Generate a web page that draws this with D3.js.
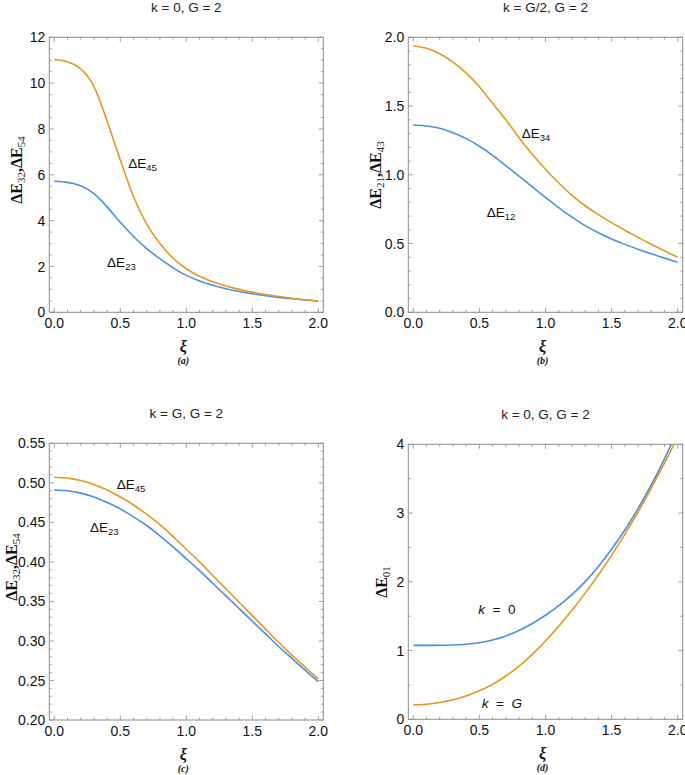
<!DOCTYPE html>
<html><head><meta charset="utf-8">
<script src="https://cdn.jsdelivr.net/npm/d3@7"></script>
<style>body{margin:0;background:#fff}</style>
</head><body>
<svg id="c" width="685" height="775" xmlns="http://www.w3.org/2000/svg"></svg>
<script>
// ---------- data ----------
const xi = [0,0.1,0.2,0.3,0.4,0.5,0.6,0.7,0.8,0.9,1.0,1.1,1.2,1.3,1.4,1.5,1.6,1.7,1.8,1.9,2.0];

// (a) k = 0, G = 2
const aE23 = [5.72,5.67,5.52,5.18,4.6,3.93,3.31,2.78,2.34,1.94,1.61,1.37,1.18,1.03,0.91,0.81,0.72,0.65,0.59,0.54,0.49];
const aE45 = [11.03,10.93,10.62,9.85,8.35,6.65,5.05,3.85,3.0,2.36,1.9,1.57,1.33,1.15,1.0,0.88,0.78,0.69,0.61,0.55,0.49];
// (b) k = G/2, G = 2
const bE12 = [1.362,1.355,1.338,1.305,1.263,1.208,1.142,1.067,0.99,0.912,0.836,0.762,0.692,0.63,0.578,0.533,0.494,0.459,0.425,0.394,0.364];
const bE34 = [1.937,1.92,1.88,1.82,1.74,1.64,1.52,1.40,1.27,1.15,1.04,0.94,0.85,0.775,0.71,0.652,0.597,0.545,0.495,0.447,0.40];
// (c) k = G, G = 2
const cE23 = [0.491,0.490,0.487,0.482,0.475,0.467,0.457,0.446,0.433,0.419,0.404,0.389,0.373,0.357,0.341,0.325,0.309,0.293,0.278,0.263,0.2485];
const cE45 = [0.507,0.506,0.503,0.498,0.491,0.482,0.472,0.460,0.447,0.432,0.416,0.400,0.383,0.366,0.349,0.332,0.315,0.298,0.282,0.267,0.252];
// (d) k = 0, G, G = 2
const dK0 = [1.075,1.075,1.077,1.081,1.091,1.113,1.153,1.213,1.293,1.393,1.513,1.653,1.813,2.003,2.223,2.473,2.753,3.063,3.408,3.788,4.208];
const dKG = [0.21,0.22,0.245,0.285,0.34,0.415,0.51,0.63,0.775,0.945,1.14,1.355,1.585,1.835,2.10,2.385,2.69,3.015,3.36,3.725,4.11];

// tick values / labels
const xTicks = [0,0.5,1,1.5,2];
const xTickLabels = ["0.0","0.5","1.0","1.5","2.0"];
const aYTicks = [0,2,4,6,8,10,12];
const aYTickLabels = ["0","2","4","6","8","10","12"];
const bYTicks = [0,0.5,1,1.5,2];
const bYTickLabels = ["0.0","0.5","1.0","1.5","2.0"];
const cYTicks = [0.2,0.25,0.3,0.35,0.4,0.45,0.5,0.55];
const cYTickLabels = ["0.20","0.25","0.30","0.35","0.40","0.45","0.50","0.55"];
const dYTicks = [0,1,2,3,4];
const dYTickLabels = ["0","1","2","3","4"];

const titles = ["k = 0, G = 2","k = G/2, G = 2","k = G, G = 2","k = 0, G, G = 2"];
const panelTags = ["(a)","(b)","(c)","(d)"];

// ---------- style ----------
const BLUE = "#4a8fe2", ORANGE = "#e3981f", FRAME = "#8c8c8c";
const SANS = "'Liberation Sans', Arial, sans-serif";
const SERIF = "'Liberation Serif', 'Times New Roman', serif";

const panels = [
  {box:[49.3,323.3,37.3,312.3], yDom:[0,12], yTicks:aYTicks, yLab:aYTickLabels, yMinor:0.5, xMinor:0.1,
   series:[[aE23,BLUE],[aE45,ORANGE]],
   ylabel:[{t:"ΔE"},{t:"32",sub:1},{t:",ΔE"},{t:"54",sub:1}], ylx:22, yly:170,
   notes:[{x:0.56,y:6.28,parts:[{t:"ΔE"},{t:"45",sub:1}]},{x:0.40,y:1.99,parts:[{t:"ΔE"},{t:"23",sub:1}]}]},
  {box:[408.3,682.7,37.3,312.3], yDom:[0,2], yTicks:bYTicks, yLab:bYTickLabels, yMinor:0.1, xMinor:0.1,
   series:[[bE12,BLUE],[bE34,ORANGE]],
   ylabel:[{t:"ΔE"},{t:"21",sub:1},{t:",ΔE"},{t:"43",sub:1}], ylx:381, yly:175,
   notes:[{x:0.82,y:1.265,parts:[{t:"ΔE"},{t:"34",sub:1}]},{x:0.556,y:0.693,parts:[{t:"ΔE"},{t:"12",sub:1}]}]},
  {box:[49.3,323.3,443.3,720], yDom:[0.2,0.55], yTicks:cYTicks, yLab:cYTickLabels, yMinor:0.01, xMinor:0.1,
   series:[[cE23,BLUE],[cE45,ORANGE]],
   ylabel:[{t:"ΔE"},{t:"32",sub:1},{t:",ΔE"},{t:"54",sub:1}], ylx:16.5, yly:567,
   notes:[{x:0.473,y:0.492,parts:[{t:"ΔE"},{t:"45",sub:1}]},{x:0.27,y:0.4384,parts:[{t:"ΔE"},{t:"23",sub:1}]}]},
  {box:[408.3,682.7,444.3,719.3], yDom:[0,4], yTicks:dYTicks, yLab:dYTickLabels, yMinor:0.5, xMinor:0.1,
   series:[[dK0,BLUE],[dKG,ORANGE]],
   ylabel:[{t:"ΔE"},{t:"01",sub:1}], ylx:387, yly:582,
   notes:[{x:0.492,y:1.53,parts:[{t:"k",it:1},{t:"  =  0"}]},{x:0.518,y:0.16,parts:[{t:"k",it:1},{t:"  =  G",it2:1}]}]}
];

const svg = d3.select("#c");

function rich(sel, parts, main, sub, shift){
  let down = false;
  parts.forEach(p=>{
    const ts = sel.append("tspan").text(p.t);
    if(p.sub){ ts.attr("font-size",sub).attr("font-weight","normal").attr("dy",shift); down=true; }
    else { ts.attr("font-size",main); if(down){ ts.attr("dy",-shift); down=false; } }
    if(p.it) ts.attr("font-style","italic");
  });
}

panels.forEach((P,i)=>{
  const [x0,x1,y0,y1] = P.box;
  const pad = 0.0379;
  const x = d3.scaleLinear().domain([-pad,2+pad]).range([x0,x1]);
  const y = d3.scaleLinear().domain(P.yDom).range([y1,y0]);
  const g = svg.append("g");

  const clipId = "clip"+i;
  svg.append("clipPath").attr("id",clipId).append("rect")
     .attr("x",x0).attr("y",y0).attr("width",x1-x0).attr("height",y1-y0);

  // curves
  const line = d3.line().x((d,j)=>x(xi[j])).y(d=>y(d)).curve(d3.curveNatural);
  P.series.forEach(([vals,col])=>{
    g.append("path").datum(vals).attr("d",line).attr("fill","none")
     .attr("stroke",col).attr("stroke-width",1.6).attr("clip-path",`url(#${clipId})`);
  });

  // ticks (all four sides, inward)
  const majL = 4.5, minL = 2.5;
  const xMinorVals = d3.range(0,2.0001,P.xMinor).filter(v=>!xTicks.some(t=>Math.abs(t-v)<1e-6));
  const yMinorVals = d3.range(P.yDom[0],P.yDom[1]+1e-6,P.yMinor).filter(v=>!P.yTicks.some(t=>Math.abs(t-v)<1e-6));
  const tg = g.append("g").attr("stroke",FRAME).attr("stroke-width",0.8);
  [[xTicks,majL],[xMinorVals,minL]].forEach(([vals,L])=>{
    vals.forEach(v=>{
      const px = x(v);
      tg.append("line").attr("x1",px).attr("x2",px).attr("y1",y1).attr("y2",y1-L);
      tg.append("line").attr("x1",px).attr("x2",px).attr("y1",y0).attr("y2",y0+L);
    });
  });
  [[P.yTicks,majL],[yMinorVals,minL]].forEach(([vals,L])=>{
    vals.forEach(v=>{
      const py = y(v);
      tg.append("line").attr("y1",py).attr("y2",py).attr("x1",x0).attr("x2",x0+L);
      tg.append("line").attr("y1",py).attr("y2",py).attr("x1",x1).attr("x2",x1-L);
    });
  });

  // frame
  g.append("rect").attr("x",x0).attr("y",y0).attr("width",x1-x0).attr("height",y1-y0)
   .attr("fill","none").attr("stroke",FRAME).attr("stroke-width",1);

  // tick labels
  xTicks.forEach((v,j)=>{
    g.append("text").attr("x",x(v)).attr("y",y1+16).attr("text-anchor","middle")
     .attr("font-family",SANS).attr("font-size",14).attr("fill","#111").text(xTickLabels[j]);
  });
  P.yTicks.forEach((v,j)=>{
    g.append("text").attr("x",x0-4).attr("y",y(v)).attr("dy","0.36em").attr("text-anchor","end")
     .attr("font-family",SANS).attr("font-size",14).attr("fill","#111").text(P.yLab[j]);
  });

  // title
  g.append("text").attr("x",(x0+x1)/2).attr("y",y0-25).attr("text-anchor","middle")
   .attr("font-family",SANS).attr("font-size",13.5).attr("fill","#222").text(titles[i]);

  // y label (bold serif, rotated)
  const yl = g.append("text").attr("transform",`translate(${P.ylx},${P.yly}) rotate(-90)`)
   .attr("text-anchor","middle").attr("font-family",SERIF).attr("font-weight","bold").attr("fill","#111");
  rich(yl,P.ylabel,16,11,3);

  // x label
  const cx = (x0+x1)/2 - 3;
  g.append("text").attr("x",cx).attr("y",y1+40).attr("text-anchor","middle")
   .attr("font-family",SERIF).attr("font-style","italic").attr("font-weight","bold").attr("font-size",16).attr("fill","#111").text("ξ");
  g.append("text").attr("x",cx).attr("y",y1+52).attr("text-anchor","middle")
   .attr("font-family",SERIF).attr("font-style","italic").attr("font-weight","bold").attr("font-size",10).attr("fill","#111").text(panelTags[i]);

  // in-plot notes
  P.notes.forEach(n=>{
    const t = g.append("text").attr("x",x(n.x)).attr("y",y(n.y)).attr("font-family",SANS)
      .attr("fill","#111").style("white-space","pre");
    n.parts.forEach(p=>{
      if(p.sub){ t.append("tspan").text(p.t).attr("font-size",9.5).attr("dy",3); }
      else if(p.it2){
        t.append("tspan").text("  =  ").attr("font-size",13.5);
        t.append("tspan").text("G").attr("font-size",13.5).attr("font-style","italic");
      }
      else { const s=t.append("tspan").text(p.t).attr("font-size",13.5); if(p.it) s.attr("font-style","italic"); }
    });
  });
});
</script>
</body></html>
